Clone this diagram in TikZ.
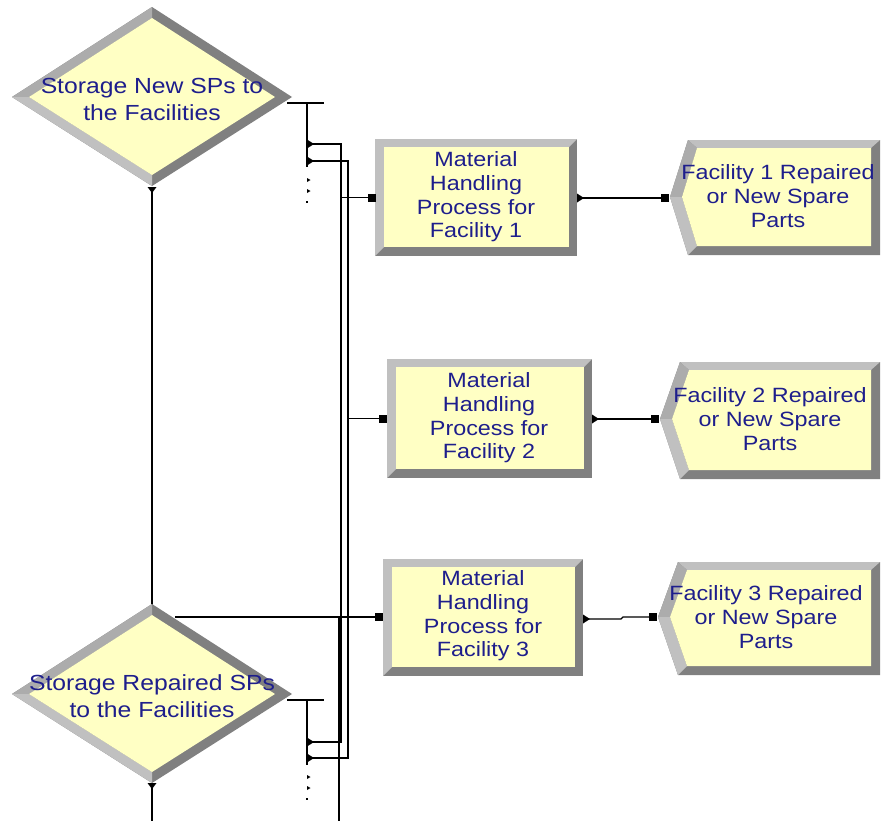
\documentclass[tikz,border=0pt]{standalone}
\usepackage{fontspec}
\setmainfont{Liberation Sans}[FakeStretch=1.13]
\usetikzlibrary{calc}
\definecolor{armyel}{RGB}{255,255,196}
\definecolor{armlight}{RGB}{192,192,192}
\definecolor{armmid}{RGB}{172,172,172}
\definecolor{armdark}{RGB}{128,128,128}
\definecolor{armtext}{RGB}{30,30,140}
\newcommand\procbox[4]{%
 \fill[armdark] (#1,#2) rectangle (#3,#4);
 \fill[armlight] (#1,#2) -- (#3,#2) -- ({#3-8},{#2+8}) -- ({#1+9},{#2+8}) -- ({#1+9},{#4-9}) -- (#1,#4) -- cycle;
 \fill[armyel] ({#1+9},{#2+8}) rectangle ({#3-8},{#4-9});
}
\newcommand\dispbox[5]{%
 \fill[armdark] (#1,#5) -- (#2,#3) -- (880,#3) -- (880,#4) -- (#2,#4) -- cycle;
 \fill[armlight] (#2,#3) -- (880,#3) -- (871,{#3+8}) -- ({#2+9},{#3+8}) -- cycle;
 \fill[armmid] (#1,#5) -- (#2,#3) -- ({#2+9},{#3+8}) -- ({#1+12},#5) -- cycle;
 \fill[armlight] (#1,#5) -- ({#1+12},#5) -- ({#2+9},{#4-9}) -- (#2,#4) -- cycle;
 \fill[armyel] ({#1+12},#5) -- ({#2+9},{#3+8}) -- (871,{#3+8}) -- (871,{#4-9}) -- ({#2+9},{#4-9}) -- cycle;
}
\newcommand\decidebox[2]{%
 \fill[armdark] ({#1-140},#2) -- (#1,{#2-90}) -- ({#1+140},#2) -- (#1,{#2+89}) -- cycle;
 \fill[armmid] ({#1-140},#2) -- (#1,{#2-90}) -- (#1,{#2-79}) -- ({#1-123},#2) -- cycle;
 \fill[armlight] ({#1-140},#2) -- ({#1-123},#2) -- (#1,{#2+78}) -- (#1,{#2+89}) -- cycle;
 \fill[armyel] ({#1-123},#2) -- (#1,{#2-79}) -- ({#1+123},#2) -- (#1,{#2+78}) -- cycle;
}
\tikzset{
 conn/.style={line width=1pt, black},
 lbl/.style={text=armtext, align=center, inner sep=0pt, font=\fontsize{15.5}{17.8}\selectfont},
 dlbl/.style={lbl, font=\fontsize{16.4}{20.25}\selectfont},
 entrysq/.pic={\fill[black] (-4,-4) rectangle (4,4);},
 exitr/.pic={\fill[black] (0,-4.5) -- (7,0) -- (0,4.5) -- cycle;},
 exitd/.pic={\fill[black] (-4.5,0) -- (4.5,0) -- (0,6) -- cycle;},
 tinyr/.pic={\fill[black] (0,-2) -- (3.5,0) -- (0,2) -- cycle;},
 tinydot/.pic={\fill[black] (-1.2,-1.2) rectangle (1.2,1.2);}
}
\begin{document}
\begin{tikzpicture}[x=0.75pt,y=-0.75pt]
\useasboundingbox (0,0) rectangle (881,821);
\fill[white] (0,0) rectangle (881,821);
% coordinates
\coordinate (d1s) at (152,187);
\coordinate (d2t) at (152,605);
\coordinate (d2s) at (152,783);
\coordinate (bot1) at (152,821);
\coordinate (d1r) at (287,103);
\coordinate (d1rr) at (324,103);
\coordinate (d1v) at (307,103);
\coordinate (d1vb) at (307,167);
\coordinate (d1e1) at (307,144);
\coordinate (d1e2) at (307,161);
\coordinate (d2r) at (287,700);
\coordinate (d2rr) at (324,700);
\coordinate (d2v) at (307,700);
\coordinate (d2vb) at (307,765);
\coordinate (d2e1) at (307,742);
\coordinate (d2e2) at (307,758);
\coordinate (j1) at (341,144);
\coordinate (j1b) at (341,742);
\coordinate (j2) at (348,161);
\coordinate (j2b) at (348,758);
\coordinate (tap1) at (341,197.5);
\coordinate (tap2) at (348,418.5);
\coordinate (tap3) at (175,617);
\coordinate (k1) at (339,617);
\coordinate (k1b) at (339,821);
\coordinate (p1in) at (371.5,197.5);
\coordinate (p2in) at (383,418.5);
\coordinate (p3in) at (379,617);
\coordinate (p1out) at (577,198);
\coordinate (p2out) at (592,419);
\coordinate (p3out) at (583,619);
\coordinate (f1in) at (665,198);
\coordinate (f2in) at (655,419);
\coordinate (f3in) at (652.5,617);
\coordinate (q1) at (621,619);
\coordinate (q2) at (623,617);
% connectors
\draw[conn] (d1s) -- (d2t);
\draw[conn] (d2s) -- (bot1);
\draw[conn] (d1r) -- (d1rr);
\draw[conn] (d1v) -- (d1vb);
\draw[conn] (d2r) -- (d2rr);
\draw[conn] (d2v) -- (d2vb);
\draw[conn] (d1e1) -- (j1) -- (j1b) -- (d2e1);
\draw[conn] (d1e2) -- (j2) -- (j2b) -- (d2e2);
\draw[conn] (tap1) -- (p1in);
\draw[conn] (tap2) -- (p2in);
\draw[conn] (tap3) -- (p3in);
\draw[conn] (k1) -- (k1b);
\draw[conn] (p1out) -- (f1in);
\draw[conn] (p2out) -- (f2in);
\draw[conn] (p3out) -- (q1) -- (q2) -- (f3in);
% shapes
\decidebox{152}{97}
\decidebox{152}{694}
\procbox{375}{139}{577}{256}
\procbox{387}{359}{592}{478}
\procbox{383}{559}{583}{676}
\dispbox{670}{688}{140}{255}{197}
\dispbox{660}{680}{362}{479}{419}
\dispbox{658}{678}{562}{675}{617}
% labels
\node[dlbl] (t1) at (152,99) {Storage New SPs to\\the Facilities};
\node[dlbl] (t2) at (152,696) {Storage Repaired SPs\\to the Facilities};
\node[lbl] (t3) at (476,197) {Material\\Handling\\Process for\\Facility 1};
\node[lbl] (t4) at (489,418) {Material\\Handling\\Process for\\Facility 2};
\node[lbl] (t5) at (483,616) {Material\\Handling\\Process for\\Facility 3};
\node[lbl] (t6) at (778,196) {Facility 1 Repaired\\or New Spare\\Parts};
\node[lbl] (t7) at (770,419) {Facility 2 Repaired\\or New Spare\\Parts};
\node[lbl] (t8) at (766,617) {Facility 3 Repaired\\or New Spare\\Parts};
% markers
\pic at (d1s) {exitd};
\pic at (d2s) {exitd};
\pic at (d1e1) {exitr};
\pic at (d1e2) {exitr};
\pic at (d2e1) {exitr};
\pic at (d2e2) {exitr};
\pic at (307,180) {tinyr};
\pic at (307,191) {tinyr};
\pic at (307,202) {tinydot};
\pic at (307,777) {tinyr};
\pic at (307,788) {tinyr};
\pic at (307,799) {tinydot};
\pic at (p1in) {entrysq};
\pic at (p2in) {entrysq};
\pic at (p3in) {entrysq};
\pic at (f1in) {entrysq};
\pic at (f2in) {entrysq};
\pic at (f3in) {entrysq};
\pic at (p1out) {exitr};
\pic at (p2out) {exitr};
\pic at (p3out) {exitr};
\end{tikzpicture}
\end{document}
